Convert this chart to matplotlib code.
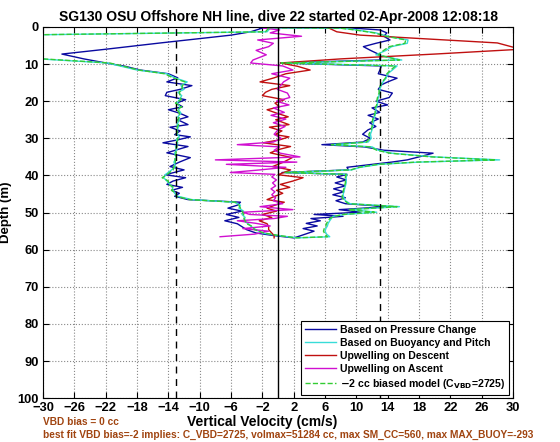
import numpy as np
import matplotlib
matplotlib.use('Agg')
import matplotlib.pyplot as plt

plt.rcParams['font.family'] = ['Liberation Sans', 'DejaVu Sans']
plt.rcParams['font.weight'] = 'bold'

# descent (depth m, velocities cm/s)
desc_depth = [0.3, 1.3, 2.2, 4.3, 6.0, 7.3, 8.6, 9.7, 10.6, 11.6, 12.6, 13.7, 14.8, 15.8, 16.8,
              17.6, 18.5, 19.6, 20.5, 21.5, 22.3, 23.2, 24.2, 25.0, 26.3, 27.0, 28.0, 29.0, 29.6,
              30.4, 31.2, 32.2, 33.0, 33.9, 35.2, 36.4, 37.6, 38.5, 39.8, 40.6, 41.5, 42.4, 43.2,
              44.0, 44.8, 45.6, 46.5, 47.2, 48.0, 48.8, 49.6, 50.5, 51.3, 52.2, 53.0, 53.8, 54.6,
              55.5, 56.2, 56.8]
desc_press = [-2.0, -3.5, -6.0, -15.0, -22.0, -27.6, -24.8, -22.0, -19.5, -17.6, -14.0, -12.8, -14.2,
              -11.0, -12.5, -14.2, -14.4, -11.8, -13.0, -12.2, -14.0, -12.6, -11.5, -12.8, -11.5,
              -13.8, -12.5, -13.2, -11.2, -12.8, -14.7, -11.5, -12.8, -14.2, -11.2, -12.6, -13.8,
              -12.0, -14.4, -11.8, -13.4, -14.2, -12.2, -13.6, -12.6, -13.2, -11.5, -4.8, -5.2,
              -6.4, -4.6, -6.6, -5.0, -6.8, -5.2, -4.6, -4.0, -2.8, -0.5, 2.0]
desc_buoy = [-1.0, -1.4, -34.0, -38.0, -40.0, -42.0, -30.5, -21.8, -20.0, -18.0, -14.2, -13.2, -11.6,
             -12.4, -12.0, -12.8, -12.3, -12.6, -12.9, -12.5, -12.7, -12.4, -12.8, -12.6, -12.9,
             -12.7, -13.0, -12.8, -12.6, -13.0, -12.8, -13.1, -12.9, -13.2, -13.0, -13.3, -13.1,
             -13.6, -14.4, -14.6, -14.2, -13.8, -13.5, -13.4, -13.2, -12.8, -11.0, -5.6, -4.8,
             -5.0, -4.4, -4.6, -4.2, -4.4, -3.8, -3.4, -2.8, -2.0, 0.0, 2.5]
desc_model = [-1.2, -1.6, -34.5, -38.5, -40.5, -42.5, -30.0, -21.5, -19.7, -17.8, -14.5, -13.4, -11.9,
              -12.2, -12.3, -12.6, -12.5, -12.4, -13.1, -12.3, -12.9, -12.6, -12.6, -12.8, -12.7,
              -12.9, -12.8, -13.0, -12.8, -12.8, -13.0, -12.9, -13.1, -13.0, -13.2, -13.1, -13.3,
              -13.4, -14.2, -14.8, -14.0, -14.0, -13.3, -13.6, -13.0, -13.0, -11.3, -5.4, -5.0,
              -4.8, -4.6, -4.4, -4.4, -4.2, -4.0, -3.2, -3.0, -1.8, 0.2, 2.3]
desc_upwell = [6.5, 7.5, 10.5, 28.0, 31.0, 20.0, 8.0, 0.3, 2.5, 4.1, 1.0, -0.5, -2.3, 1.5, -0.8,
               -1.6, -2.0, 0.8, -0.4, 0.2, -1.4, -0.2, 1.3, -0.3, 1.4, -1.1, 0.5, -0.4, 1.4, 0.2,
               -1.9, 1.6, 0.1, -1.0, 1.8, 0.7, -0.7, 1.6, 0.0, 3.2, 1.9, 0.3, 1.5, -0.2, 0.6, -0.4,
               -1.4, 0.8, -0.4, -1.4, -0.2, -2.0, -0.8, -2.4, -1.4, -1.2, -1.2, -0.8, -0.5, -0.5]

# ascent
asc_depth = [56.5, 55.8, 55.0, 54.3, 53.6, 52.9, 52.2, 51.6, 51.0, 50.5, 49.9, 49.2, 48.4, 47.6, 46.8,
             46.0, 45.2, 44.4, 43.6, 42.8, 42.0, 41.2, 40.4, 39.7, 39.2, 38.5, 37.8, 37.0, 36.4,
             35.8, 35.0, 34.0, 33.2, 32.3, 31.7, 31.0, 30.0, 28.9, 27.7, 26.8, 25.8, 24.8, 23.8,
             23.0, 21.8, 21.0, 20.0, 19.0, 17.8, 16.8, 15.6, 14.8, 13.8, 12.6, 11.6, 10.5, 9.7,
             8.9, 7.5, 6.3, 5.3, 4.4, 3.5, 2.5, 1.6, 0.8, 0.3, 0.2]
asc_press = [2.5, 3.5, 4.6, 3.2, 5.0, 3.6, 5.4, 4.2, 8.3, 4.6, 10.5, 7.8, 14.0, 8.6, 7.4, 8.6, 7.0,
             8.4, 7.1, 8.6, 7.3, 8.7, 7.5, 8.8, 0.5, 9.0, 8.8, 12.0, 14.5, 16.5, 18.0, 19.8, 13.5,
             11.0, 5.6, 10.8, 11.8, 10.8, 11.5, 12.5, 11.7, 12.8, 11.5, 13.0, 12.0, 14.0, 12.5,
             14.2, 14.6, 12.8, 13.2, 14.0, 15.2, 12.8, 13.0, 13.2, 0.3, 13.0, 13.0, 11.8, 10.9,
             12.5, 14.3, 13.5, 13.9, 13.0, 9.5, -2.3]
asc_buoy = [6.6, 6.2, 6.0, 6.1, 6.3, 6.4, 6.6, 6.8, 7.0, 8.5, 12.6, 9.2, 15.5, 9.2, 8.6, 8.4, 8.3,
            8.4, 8.5, 8.6, 8.7, 8.7, 8.7, 8.8, 1.0, 9.4, 10.5, 13.0, 18.0, 28.3, 20.0, 14.5, 12.8,
            12.0, 7.0, 11.5, 11.9, 11.8, 12.0, 12.1, 12.2, 12.2, 12.4, 12.5, 12.5, 12.7, 12.7,
            12.8, 13.0, 13.0, 13.2, 13.4, 13.8, 14.0, 14.6, 15.2, 0.5, 15.8, 12.5, 13.8, 14.5,
            16.5, 16.6, 14.0, 12.5, 10.0, 8.0, -1.0]
asc_model = [6.3, 6.0, 5.8, 5.9, 6.1, 6.2, 6.4, 6.6, 7.2, 8.3, 12.3, 9.0, 15.2, 9.0, 8.5, 8.2, 8.2,
             8.3, 8.4, 8.5, 8.6, 8.6, 8.6, 8.7, 0.8, 9.3, 10.3, 12.8, 17.6, 27.8, 19.6, 14.3, 12.6,
             11.8, 6.8, 11.3, 11.7, 11.6, 11.9, 12.0, 12.0, 12.1, 12.3, 12.4, 12.4, 12.6, 12.6,
             12.7, 12.9, 12.9, 13.1, 13.3, 13.7, 13.9, 14.4, 15.0, 0.4, 15.5, 12.8, 13.5, 14.2,
             16.2, 16.3, 13.8, 12.3, 9.8, 7.8, -1.2]
asc_upwell = [-7.4, -3.0, -1.2, -4.5, -1.0, -2.8, -5.2, -0.5, 1.2, -3.6, -4.5, 1.9, -2.3, 0.6, -0.6,
              -0.3, -0.8, -0.4, -0.9, -0.3, -0.7, -0.2, -0.8, -0.4, -6.1, -2.3, 1.0, -6.6, 2.4,
              -8.0, 2.8, 0.3, -0.5, 0.2, -5.2, -0.6, 0.4, -0.5, 0.0, 0.9, -0.6, 1.0, -0.9, 0.8,
              -0.6, 1.4, -0.2, 1.5, 1.2, -0.1, 0.4, 0.7, 1.5, -0.8, 1.9, 0.6, -3.5, -3.2, -1.5,
              -2.8, -1.2, -0.6, -2.6, 3.0, -1.0, 0.2, -1.9, -1.9]

fig = plt.figure(figsize=(5.6, 4.42), dpi=100)
ax = fig.add_axes([0.077, 0.099, 0.839, 0.840])

ax.plot(desc_press + asc_press, desc_depth + asc_depth, color='#0a0aa0', lw=1,
        label='Based on Pressure Change')
ax.plot(desc_buoy + asc_buoy, desc_depth + asc_depth, color='#38dcd8', lw=1,
        label='Based on Buoyancy and Pitch')
ax.plot(desc_upwell, desc_depth, color='#c01010', lw=1, label='Upwelling on Descent')
ax.plot(asc_upwell, asc_depth, color='#d010d0', lw=1, label='Upwelling on Ascent')
ax.plot(desc_model + asc_model, desc_depth + asc_depth, color='#33cc33', lw=1, ls='--',
        label='$-$2 cc biased model (C$_{\\mathbf{VBD}}$=2725)')

ax.axvline(0, color='k', lw=1)
ax.axvline(-13, color='k', lw=1, ls=(0, (5, 4)))
ax.axvline(13, color='k', lw=1, ls=(0, (5, 4)))

ax.set_xlim(-30, 30)
ax.set_ylim(100, 0)
ax.set_xticks(np.arange(-30, 31, 4))
ax.set_yticks(np.arange(0, 101, 10))
ax.tick_params(direction='in', top=True, right=True, labelsize=9.3, length=4)
ax.tick_params(axis='x', pad=2.5)
ax.tick_params(axis='y', pad=3)
ax.grid(True, ls=':', color='#888888', lw=0.8)
ax.set_ylabel('Depth (m)', fontsize=9.5, fontweight='bold')
ax.set_title('SG130 OSU Offshore NH line, dive 22 started 02-Apr-2008 12:08:18',
             fontsize=10, fontweight='bold', pad=4)

leg = ax.legend(loc='lower right', fontsize=7.6, handlelength=3.0, framealpha=1,
                edgecolor='k', fancybox=False, borderpad=0.35, labelspacing=0.28,
                handletextpad=0.4, borderaxespad=0.35)
leg.get_frame().set_linewidth(0.8)

fig.text(0.468, 0.045, 'Vertical Velocity (cm/s)', ha='center', va='center',
         fontsize=10, fontweight='bold')
fig.text(0.077, 0.046, 'VBD bias = 0 cc', color='#a04410', fontsize=7.3, va='center')
fig.text(0.077, 0.016, 'best fit VBD bias=-2 implies: C_VBD=2725, volmax=51284 cc, '
         'max SM_CC=560, max MAX_BUOY=-293', color='#a04410', fontsize=7.3, va='center')

fig.savefig('out.png', dpi=100)
